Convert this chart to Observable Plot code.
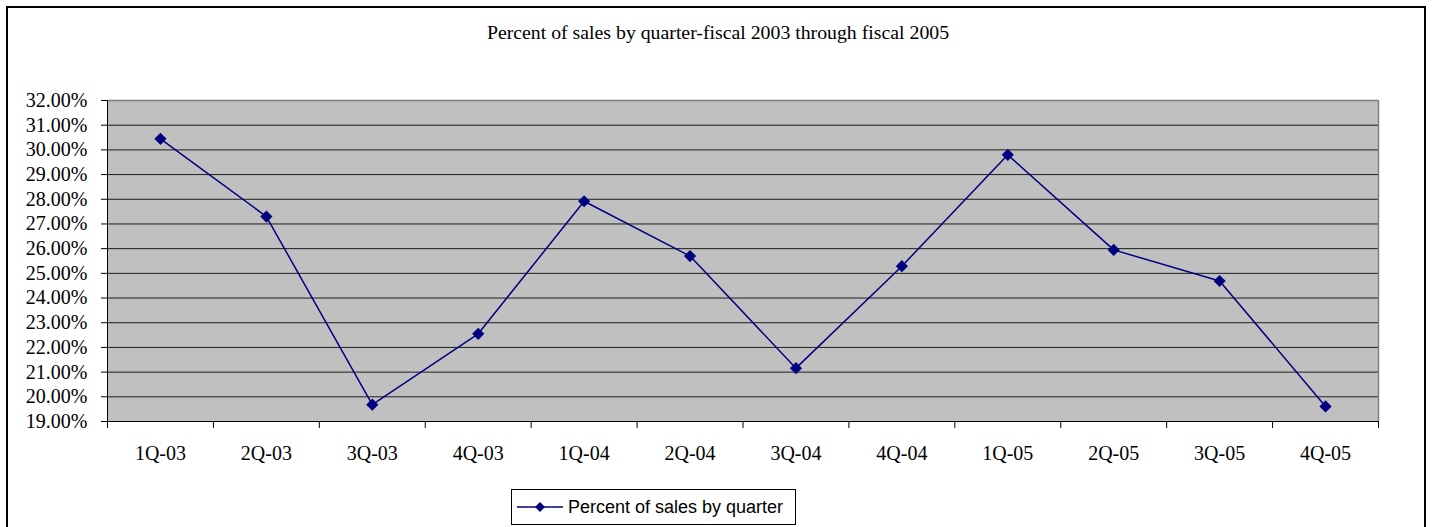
<!DOCTYPE html>
<html>
<head>
<meta charset="utf-8">
<script src="https://cdn.jsdelivr.net/npm/d3@7"></script>
<script src="https://cdn.jsdelivr.net/npm/@observablehq/plot@0.6"></script>
<style>
  html, body { margin: 0; padding: 0; background: #fff; }
  #wrap { position: relative; width: 1432px; height: 527px; overflow: hidden; }
  #frame { position: absolute; left: 6px; top: 6px; width: 1420px; height: 560px; border: 2px solid #000; box-sizing: border-box; }
  #title { position: absolute; left: 0; width: 1436px; top: 21px; text-align: center; font-family: "Liberation Serif", serif; font-size: 19.8px; color: #000; }
  #chart { position: absolute; left: 0; top: 0; }
  #legend { position: absolute; left: 511px; top: 489px; width: 285px; height: 36px; border: 1px solid #000; box-sizing: border-box; background: #fff; display: flex; align-items: center; font-family: "Liberation Sans", Arial, sans-serif; font-size: 18px; color: #000; }
  #legend svg { margin-left: 5px; margin-right: 5px; }
</style>
</head>
<body>
<div id="wrap">
  <div id="frame"></div>
  <div id="chart"></div>
  <div id="title">Percent of sales by quarter-fiscal 2003 through fiscal 2005</div>
  <div id="legend"><svg width="46" height="12"><line x1="0" y1="6" x2="46" y2="6" stroke="#000080" stroke-width="1.5"/><path d="M23,1 L28,6 L23,11 L18,6 Z" fill="#000080"/></svg><span>Percent of sales by quarter</span></div>
</div>
<script>
const quarters = ["1Q-03","2Q-03","3Q-03","4Q-03","1Q-04","2Q-04","3Q-04","4Q-04","1Q-05","2Q-05","3Q-05","4Q-05"];
const percents = [30.45, 27.30, 19.68, 22.55, 27.92, 25.70, 21.16, 25.29, 29.80, 25.95, 24.69, 19.61];
const yTicks = [19, 20, 21, 22, 23, 24, 25, 26, 27, 28, 29, 30, 31, 32];

const data = quarters.map((q, i) => ({q, i, v: percents[i]}));
const centers = quarters.map((q, i) => i + 0.5);
const bounds = [0, ...quarters.map((q, i) => i + 1)];
const yMin = yTicks[0], yMax = yTicks[yTicks.length - 1];
const inner = yTicks.slice(1, -1);

const chart = Plot.plot({
  width: 1432,
  height: 527,
  marginLeft: 107,
  marginRight: 54,
  marginTop: 100,
  marginBottom: 106,
  style: {fontFamily: "Liberation Serif, serif", fontSize: "20px", color: "#000", background: "transparent", overflow: "visible"},
  x: {type: "linear", domain: [0, quarters.length], axis: null, label: null},
  y: {domain: [yMin, yMax], axis: null, label: null},
  marks: [
    Plot.frame({fill: "#c0c0c0", stroke: null}),
    Plot.ruleY(inner, {stroke: "#000", strokeWidth: 1, strokeOpacity: 0.85}),
    Plot.ruleY([yMax], {stroke: "#808080", strokeWidth: 1.5}),
    Plot.ruleX([quarters.length], {stroke: "#808080", strokeWidth: 1.5}),
    Plot.ruleX([0], {stroke: "#000", strokeWidth: 1}),
    Plot.ruleY([yMin], {stroke: "#000", strokeWidth: 1}),
    Plot.axisY({ticks: yTicks, label: null, tickSize: 6, tickPadding: 14, tickFormat: d => d.toFixed(2) + "%", stroke: "#000", fill: "#000", fontVariant: "normal"}),
    Plot.axisX({ticks: bounds, label: null, tickSize: 7, tickFormat: () => "", stroke: "#000"}),
    Plot.axisX({ticks: centers, label: null, tickSize: 0, tickPadding: 24, tickFormat: d => quarters[Math.round(d - 0.5)], fill: "#000", fontVariant: "normal"}),
    Plot.line(data, {x: d => d.i + 0.5, y: "v", stroke: "#000080", strokeWidth: 1.5}),
    Plot.dot(data, {x: d => d.i + 0.5, y: "v", symbol: "diamond2", r: 5.5, fill: "#000080", stroke: null})
  ]
});
document.getElementById("chart").appendChild(chart);
</script>
</body>
</html>
